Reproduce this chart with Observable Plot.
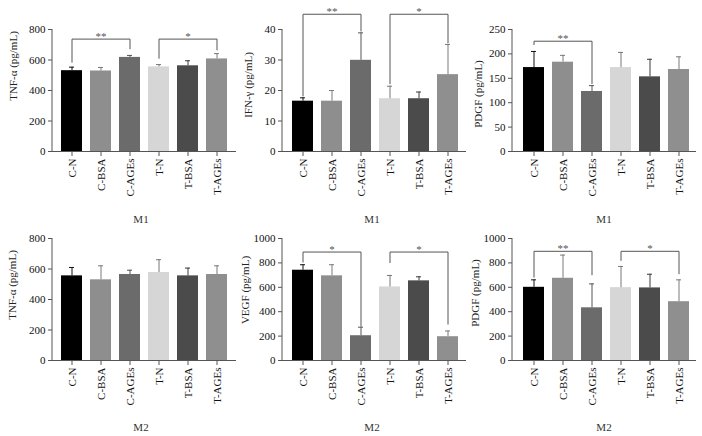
<!DOCTYPE html>
<html><head><meta charset="utf-8">
<script src="https://cdn.jsdelivr.net/npm/d3@7"></script>
<script src="https://cdn.jsdelivr.net/npm/@observablehq/plot@0.6"></script>
<style>
body{margin:0;background:#fff;}
#root{position:relative;width:702px;height:436px;overflow:hidden;background:#fff;font-family:"Liberation Serif","Times New Roman",serif;}
.panel{position:absolute;}
.panel svg{overflow:visible;}
.ytitle{position:absolute;font-size:11px;line-height:1;white-space:nowrap;transform:translate(-50%,-50%) rotate(-90deg);color:#222;}
.group{position:absolute;font-size:11px;line-height:1;white-space:nowrap;transform:translate(-50%,-50%);color:#333;}
</style></head><body><div id="root"></div>
<script>
// ---- data ----
const categories = ["C-N", "C-BSA", "C-AGEs", "T-N", "T-BSA", "T-AGEs"];
const barColors = ["#000000", "#8e8e8e", "#6b6b6b", "#d6d6d6", "#4b4b4b", "#8f8f8f"];
const errColors = ["#111111", "#7a7a7a", "#555555", "#777777", "#3a3a3a", "#7a7a7a"];

const tnfM1Mean = [530, 528, 617, 555, 562, 607];
const tnfM1Sd = [23, 23, 13, 15, 33, 35];
const tnfM1Brackets = [["C-N", "C-AGEs", 737, 585, 673, "**"], ["T-N", "T-AGEs", 737, 611, 666, "*"]];

const ifnM1Mean = [16.5, 16.5, 29.9, 17.3, 17.3, 25.2];
const ifnM1Sd = [1.1, 3.5, 9.0, 4.1, 2.2, 9.9];
const ifnM1Brackets = [["C-N", "C-AGEs", 45, 18.2, 39.5, "**"], ["T-N", "T-AGEs", 45, 22.2, 35.6, "*"]];

const pdgfM1Mean = [172, 183, 123, 172, 153, 168];
const pdgfM1Sd = [33, 14, 12, 31, 36, 26];
const pdgfM1Brackets = [["C-N", "C-AGEs", 226, 219, 139, "**"]];

const tnfM2Mean = [555, 529, 564, 577, 555, 564];
const tnfM2Sd = [55, 92, 28, 84, 51, 57];
const tnfM2Brackets = [];

const vegfM2Mean = [740, 694, 203, 603, 653, 195];
const vegfM2Sd = [45, 91, 70, 94, 33, 47];
const vegfM2Brackets = [["C-N", "C-AGEs", 889, 807, 283, "*"], ["T-N", "T-AGEs", 889, 802, 298, "*"]];

const pdgfM2Mean = [600, 674, 432, 597, 595, 482];
const pdgfM2Sd = [61, 190, 196, 174, 112, 179];
const pdgfM2Brackets = [["C-N", "C-AGEs", 895, 683, 702, "**"], ["T-N", "T-AGEs", 895, 820, 711, "*"]];

const ticks800 = [0, 200, 400, 600, 800];
const ticks40 = [0, 10, 20, 30, 40];
const ticks250 = [0, 50, 100, 150, 200, 250];
const ticks1000 = [0, 200, 400, 600, 800, 1000];

// ---- layout ----
const panels = [
  {mean: tnfM1Mean, sd: tnfM1Sd, br: tnfM1Brackets, max: 800, ticks: ticks800, title: "TNF-\u03b1 (pg/mL)", group: "M1",
   left: 0, top: 0, xr: [58, 229], tp: [13, 66], gp: [141, 219]},
  {mean: ifnM1Mean, sd: ifnM1Sd, br: ifnM1Brackets, max: 40, ticks: ticks40, title: "IFN-\u03b3 (pg/mL)", group: "M1",
   left: 230, top: 0, xr: [60, 230], tp: [248, 85], gp: [372, 219]},
  {mean: pdgfM1Mean, sd: pdgfM1Sd, br: pdgfM1Brackets, max: 250, ticks: ticks250, title: "PDGF (pg/mL)", group: "M1",
   left: 460, top: 0, xr: [61, 230], tp: [478, 94], gp: [604, 219]},
  {mean: tnfM2Mean, sd: tnfM2Sd, br: tnfM2Brackets, max: 800, ticks: ticks800, title: "TNF-\u03b1 (pg/mL)", group: "M2",
   left: 0, top: 209, xr: [58, 229], tp: [12, 285], gp: [141, 427]},
  {mean: vegfM2Mean, sd: vegfM2Sd, br: vegfM2Brackets, max: 1000, ticks: ticks1000, title: "VEGF (pg/mL)", group: "M2",
   left: 230, top: 209, xr: [60, 230], tp: [245, 290], gp: [372, 427]},
  {mean: pdgfM2Mean, sd: pdgfM2Sd, br: pdgfM2Brackets, max: 1000, ticks: ticks1000, title: "PDGF (pg/mL)", group: "M2",
   left: 460, top: 209, xr: [61, 230], tp: [475, 293], gp: [604, 427]}
];

const root = document.getElementById("root");
const axisColor = "#555";

function yAxisLine(index, scales, values, dims) {
  const l = document.createElementNS("http://www.w3.org/2000/svg", "line");
  l.setAttribute("x1", dims.marginLeft);
  l.setAttribute("x2", dims.marginLeft);
  l.setAttribute("y1", dims.marginTop);
  l.setAttribute("y2", dims.height - dims.marginBottom);
  l.setAttribute("stroke", axisColor);
  return l;
}

for (const p of panels) {
  const rows = categories.map((c, i) => ({cat: c, mean: p.mean[i], top: p.mean[i] + p.sd[i], fill: barColors[i], err: errColors[i]}));
  const pts = [];
  const stars = [];
  p.br.forEach(([a, b, lvl, la, lb, lab], k) => {
    pts.push({x: a, y: la, k}, {x: a, y: lvl, k}, {x: b, y: lvl, k}, {x: b, y: lb, k});
    const mid = categories[(categories.indexOf(a) + categories.indexOf(b)) / 2];
    stars.push({x: mid, y: lvl, label: lab});
  });
  const chart = Plot.plot({
    width: 240, height: 218,
    marginLeft: 52, marginRight: 4, marginTop: 29, marginBottom: 67,
    x: {type: "band", domain: categories, range: p.xr, paddingInner: 0.28, paddingOuter: 0},
    y: {domain: [0, p.max]},
    style: {fontFamily: "'Liberation Serif', 'Times New Roman', serif", fontSize: "11px", background: "transparent", overflow: "visible", color: "#111"},
    marks: [
      Plot.barY(rows, {x: "cat", y: "mean", fill: "fill"}),
      Plot.ruleX(rows, {x: "cat", y1: "mean", y2: "top", stroke: "err"}),
      Plot.tickY(rows, {x: "cat", y: "top", stroke: "err", insetLeft: 8, insetRight: 8}),
      Plot.line(pts, {x: "x", y: "y", z: "k", stroke: "#555", strokeWidth: 1}),
      Plot.text(stars, {x: "x", y: "y", text: "label", dy: -3, fill: "#555", fontSize: 11}),
      Plot.ruleY([0], {stroke: axisColor}),
      yAxisLine,
      Plot.axisY({ticks: p.ticks, tickFormat: d => String(d), tickSize: 4, tickPadding: 3, label: null, stroke: axisColor, fill: "#111"}),
      Plot.axisX({tickRotate: -90, tickSize: 5, tickPadding: 2, label: null, stroke: axisColor, fill: "#111"})
    ]
  });
  const wrap = document.createElement("div");
  wrap.className = "panel";
  wrap.style.left = p.left + "px";
  wrap.style.top = p.top + "px";
  wrap.appendChild(chart);
  root.appendChild(wrap);

  const t = document.createElement("div");
  t.className = "ytitle";
  t.style.left = p.tp[0] + "px";
  t.style.top = p.tp[1] + "px";
  t.textContent = p.title;
  root.appendChild(t);

  const g = document.createElement("div");
  g.className = "group";
  g.style.left = p.gp[0] + "px";
  g.style.top = p.gp[1] + "px";
  g.textContent = p.group;
  root.appendChild(g);
}
</script>
</body></html>
